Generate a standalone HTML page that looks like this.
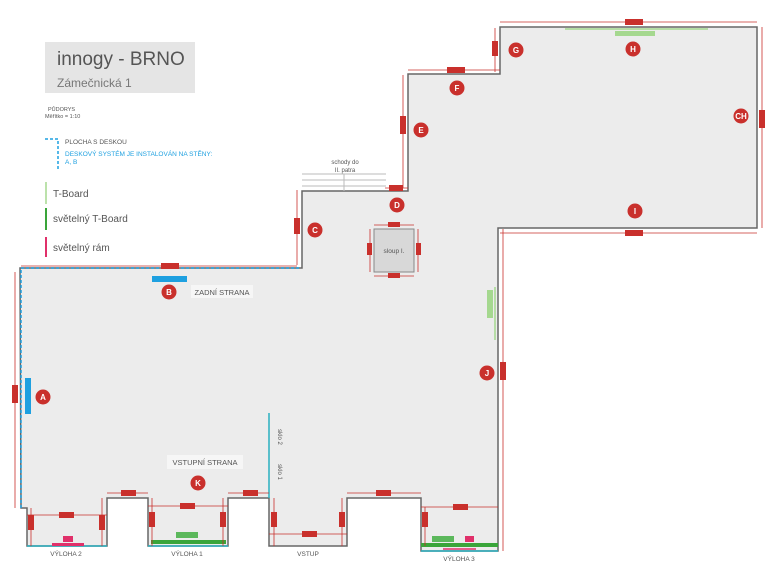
<!DOCTYPE html>
<html><head><meta charset="utf-8"><style>
html,body{margin:0;padding:0;background:#fff;}
svg{display:block;font-family:"Liberation Sans",sans-serif;}
</style></head><body>
<svg width="780" height="575" viewBox="0 0 780 575" xmlns="http://www.w3.org/2000/svg">
<defs>
<g id="c"><circle r="7.5" fill="#c9302c"/></g>
</defs>
<!-- title -->
<rect x="45" y="42" width="150" height="51" fill="#e5e5e5"/>
<text x="57" y="65" font-size="19" fill="#555">innogy - BRNO</text>
<text x="57" y="87" font-size="12" fill="#777">Zámečnická 1</text>
<text x="48" y="111" font-size="5.5" fill="#555">PŮDORYS</text>
<text x="45" y="118" font-size="5.5" fill="#555">Měřítko = 1:10</text>
<path d="M45 139 H58 V170" stroke="#1ea0e0" stroke-width="1.5" fill="none" stroke-dasharray="3,2"/>
<text x="65" y="144" font-size="6.5" fill="#555">PLOCHA S DESKOU</text>
<text x="65" y="156" font-size="6.5" fill="#1ea0e0">DESKOVÝ SYSTÉM JE INSTALOVÁN NA STĚNY:</text>
<text x="65" y="164" font-size="6.5" fill="#1ea0e0">A, B</text>
<line x1="46" y1="182" x2="46" y2="204" stroke="#a5d88f" stroke-width="1.5"/>
<text x="53" y="197" font-size="10" fill="#555">T-Board</text>
<line x1="46" y1="208" x2="46" y2="230" stroke="#3aa53a" stroke-width="2"/>
<text x="53" y="222" font-size="10" fill="#555">světelný T-Board</text>
<line x1="46" y1="237" x2="46" y2="257" stroke="#e0306a" stroke-width="2"/>
<text x="53" y="251" font-size="10" fill="#555">světelný rám</text>

<!-- floor -->
<polygon points="20,268 302,268 302,191 408,191 408,74 500,74 500,27 757,27 757,228 498,228 498,551 421,551 421,498 347,498 347,546 269,546 269,498 228,498 228,546 148,546 148,498 107,498 107,546 27,546 27,508 21,508" fill="#ececec" stroke="#666" stroke-width="1.5"/>
<!-- blue dashed walls -->
<path d="M21 508 V268 H300" stroke="#1ea0e0" stroke-width="1.5" fill="none" stroke-dasharray="3,2"/>
<!-- teal windows -->
<g stroke="#2ab0c0" stroke-width="1.5">
<line x1="27" y1="546" x2="107" y2="546"/>
<line x1="148" y1="546" x2="228" y2="546"/>
<line x1="421" y1="551" x2="498" y2="551"/>
<line x1="269" y1="413" x2="269" y2="498"/>
</g>
<!-- stairs -->
<g stroke="#bbb" stroke-width="1">
<line x1="302" y1="174" x2="386" y2="174"/>
<line x1="302" y1="180" x2="386" y2="180"/>
<line x1="302" y1="186" x2="386" y2="186"/>
<line x1="344" y1="174" x2="344" y2="191"/>
</g>
<text x="345" y="164" font-size="6" fill="#555" text-anchor="middle">schody do</text>
<text x="345" y="172" font-size="6" fill="#555" text-anchor="middle">II. patra</text>
<!-- sloup -->
<rect x="374" y="229" width="40" height="43" fill="#d8d8d8" stroke="#888"/>
<text x="394" y="253" font-size="6.5" fill="#555" text-anchor="middle">sloup I.</text>

<!-- green/pink items -->
<line x1="565" y1="29" x2="708" y2="29" stroke="#a5d88f" stroke-width="1.5"/>
<rect x="615" y="31" width="40" height="5" fill="#a5d88f"/>
<line x1="495" y1="287" x2="495" y2="340" stroke="#a5d88f" stroke-width="1.5"/>
<rect x="487" y="290" width="6" height="28" fill="#a5d88f"/>
<rect x="151" y="540" width="75" height="4" fill="#3aa53a"/>
<rect x="176" y="532" width="22" height="6" fill="#5cb85c"/>
<rect x="421" y="543" width="77" height="4" fill="#3aa53a"/>
<rect x="432" y="536" width="22" height="6" fill="#5cb85c"/>
<rect x="465" y="536" width="9" height="6" fill="#e0306a"/>
<line x1="443" y1="549" x2="476" y2="549" stroke="#e0306a" stroke-width="1.5"/>
<rect x="52" y="543" width="32" height="3" fill="#e0306a"/>
<rect x="63" y="536" width="10" height="6" fill="#e0306a"/>
<rect x="152" y="276" width="35" height="6" fill="#1ea0e0"/>
<rect x="25" y="378" width="6" height="36" fill="#1ea0e0"/>

<!-- dimension lines -->
<g stroke="#c9302c" stroke-width="0.8" fill="none">
<line x1="21" y1="266" x2="297" y2="266"/>
<line x1="15" y1="272" x2="15" y2="508"/>
<line x1="297" y1="190" x2="297" y2="265"/>
<line x1="385" y1="188" x2="408" y2="188"/>
<line x1="403" y1="75" x2="403" y2="188"/>
<line x1="408" y1="70" x2="500" y2="70"/>
<line x1="495" y1="28" x2="495" y2="72"/>
<line x1="500" y1="22" x2="757" y2="22"/>
<line x1="762" y1="27" x2="762" y2="228"/>
<line x1="500" y1="233" x2="757" y2="233"/>
<line x1="503" y1="229" x2="503" y2="551"/>
<line x1="374" y1="225" x2="414" y2="225"/>
<line x1="374" y1="276" x2="414" y2="276"/>
<line x1="370" y1="229" x2="370" y2="272"/>
<line x1="418" y1="229" x2="418" y2="272"/>
<line x1="107" y1="493" x2="148" y2="493"/>
<line x1="228" y1="493" x2="269" y2="493"/>
<line x1="347" y1="493" x2="421" y2="493"/>
<line x1="27" y1="515" x2="107" y2="515"/>
<line x1="148" y1="506" x2="228" y2="506"/>
<line x1="421" y1="507" x2="498" y2="507"/>
<line x1="269" y1="534" x2="347" y2="534"/>
<line x1="31" y1="508" x2="31" y2="546"/>
<line x1="102" y1="498" x2="102" y2="546"/>
<line x1="152" y1="498" x2="152" y2="546"/>
<line x1="223" y1="498" x2="223" y2="546"/>
<line x1="274" y1="498" x2="274" y2="546"/>
<line x1="342" y1="498" x2="342" y2="546"/>
<line x1="425" y1="507" x2="425" y2="546"/>
</g>
<g fill="#c9302c">
<rect x="161" y="263" width="18" height="6"/>
<rect x="12" y="385" width="6" height="18"/>
<rect x="294" y="218" width="6" height="16"/>
<rect x="389" y="185" width="14" height="6"/>
<rect x="400" y="116" width="6" height="18"/>
<rect x="447" y="67" width="18" height="6"/>
<rect x="492" y="41" width="6" height="15"/>
<rect x="625" y="19" width="18" height="6"/>
<rect x="759" y="110" width="6" height="18"/>
<rect x="625" y="230" width="18" height="6"/>
<rect x="500" y="362" width="6" height="18"/>
<rect x="388" y="222" width="12" height="5"/>
<rect x="388" y="273" width="12" height="5"/>
<rect x="367" y="243" width="5" height="12"/>
<rect x="416" y="243" width="5" height="12"/>
<rect x="121" y="490" width="15" height="6"/>
<rect x="243" y="490" width="15" height="6"/>
<rect x="376" y="490" width="15" height="6"/>
<rect x="59" y="512" width="15" height="6"/>
<rect x="180" y="503" width="15" height="6"/>
<rect x="453" y="504" width="15" height="6"/>
<rect x="302" y="531" width="15" height="6"/>
<rect x="28" y="515" width="6" height="15"/>
<rect x="99" y="515" width="6" height="15"/>
<rect x="149" y="512" width="6" height="15"/>
<rect x="220" y="512" width="6" height="15"/>
<rect x="271" y="512" width="6" height="15"/>
<rect x="339" y="512" width="6" height="15"/>
<rect x="422" y="512" width="6" height="15"/>
</g>

<!-- labels -->
<rect x="191" y="285" width="62" height="13" fill="#f6f6f6"/>
<text x="222" y="295" font-size="7.5" fill="#555" text-anchor="middle">ZADNÍ STRANA</text>
<rect x="167" y="455" width="76" height="14" fill="#f6f6f6"/>
<text x="205" y="465" font-size="7.5" fill="#555" text-anchor="middle">VSTUPNÍ STRANA</text>
<text x="278" y="437" font-size="6" fill="#555" transform="rotate(90 278 437)" text-anchor="middle">sklo 2</text>
<text x="278" y="472" font-size="6" fill="#555" transform="rotate(90 278 472)" text-anchor="middle">sklo 1</text>
<g font-size="6.5" fill="#555" text-anchor="middle">
<text x="66" y="556">VÝLOHA 2</text>
<text x="187" y="556">VÝLOHA 1</text>
<text x="308" y="556">VSTUP</text>
<text x="459" y="561">VÝLOHA 3</text>
</g>

<!-- circles -->
<g font-size="8" font-weight="bold" fill="#fff" text-anchor="middle">
<circle cx="43" cy="397" r="7.5" fill="#c9302c"/><text x="43" y="400">A</text>
<circle cx="169" cy="292" r="7.5" fill="#c9302c"/><text x="169" y="295">B</text>
<circle cx="315" cy="230" r="7.5" fill="#c9302c"/><text x="315" y="233">C</text>
<circle cx="397" cy="205" r="7.5" fill="#c9302c"/><text x="397" y="208">D</text>
<circle cx="421" cy="130" r="7.5" fill="#c9302c"/><text x="421" y="133">E</text>
<circle cx="457" cy="88" r="7.5" fill="#c9302c"/><text x="457" y="91">F</text>
<circle cx="516" cy="50" r="7.5" fill="#c9302c"/><text x="516" y="53">G</text>
<circle cx="633" cy="49" r="7.5" fill="#c9302c"/><text x="633" y="52">H</text>
<circle cx="741" cy="116" r="7.5" fill="#c9302c"/><text x="741" y="119">CH</text>
<circle cx="635" cy="211" r="7.5" fill="#c9302c"/><text x="635" y="214">I</text>
<circle cx="487" cy="373" r="7.5" fill="#c9302c"/><text x="487" y="376">J</text>
<circle cx="198" cy="483" r="7.5" fill="#c9302c"/><text x="198" y="486">K</text>
</g>
</svg>
</body></html>
